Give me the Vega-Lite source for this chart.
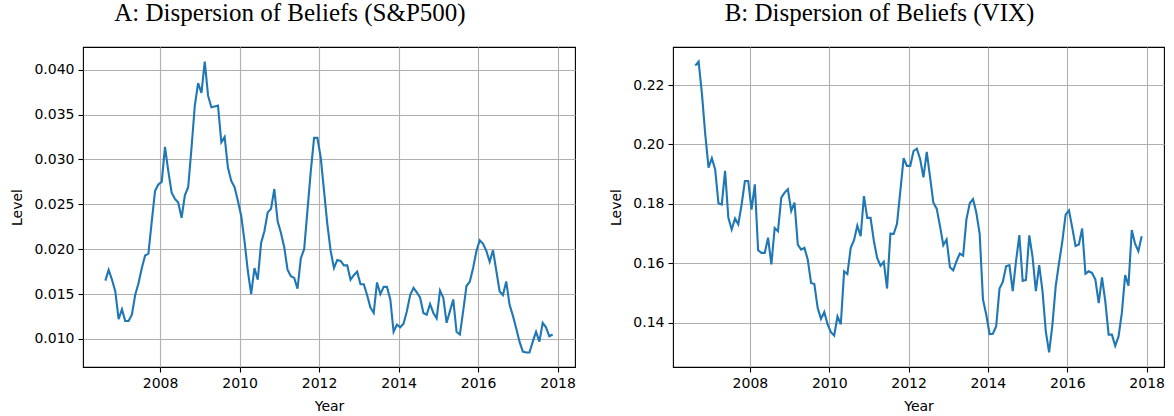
{
  "$schema": "https://vega.github.io/schema/vega-lite/v6.json",
  "padding": {"left": 10, "top": 0, "right": 5, "bottom": 5},
  "bounds": "flush",
  "spacing": 98,
  "background": "white",
  "config": {
    "font": "DejaVu Sans",
    "view": {"stroke": "#000000", "strokeWidth": 1.1},
    "axis": {
      "labelFont": "DejaVu Sans", "labelFontSize": 14, "labelColor": "#000000",
      "titleFont": "DejaVu Sans", "titleFontSize": 14, "titleFontWeight": "normal", "titleColor": "#000000",
      "tickColor": "#000000", "tickSize": 5, "tickWidth": 1.1, "labelPadding": 4,
      "domain": false, "grid": true, "gridColor": "#b0b0b0", "gridWidth": 1.1, "gridOpacity": 1,
      "titlePadding": 9, "labelOverlap": false, "labelFlush": false
    },
    "title": {
      "font": "Liberation Serif", "fontSize": 25, "fontWeight": "normal", "color": "#000000",
      "anchor": "middle", "frame": "group", "dx": -39, "baseline": "alphabetic", "offset": 21
    }
  },
  "datasets": {
    "sp": [
      {"year": 2006.625, "level": 0.0165}, {"year": 2006.708, "level": 0.0177}, {"year": 2006.792, "level": 0.0166}, {"year": 2006.875, "level": 0.0153}, {"year": 2006.958, "level": 0.0122}, {"year": 2007.042, "level": 0.0133}, {"year": 2007.125, "level": 0.0120}, {"year": 2007.208, "level": 0.0120}, {"year": 2007.292, "level": 0.0127}, {"year": 2007.375, "level": 0.0149}, {"year": 2007.458, "level": 0.0162}, {"year": 2007.542, "level": 0.0179},
      {"year": 2007.625, "level": 0.0193}, {"year": 2007.708, "level": 0.0195}, {"year": 2007.792, "level": 0.0231}, {"year": 2007.875, "level": 0.0265}, {"year": 2007.958, "level": 0.0272}, {"year": 2008.042, "level": 0.0275}, {"year": 2008.125, "level": 0.0314}, {"year": 2008.208, "level": 0.0287}, {"year": 2008.292, "level": 0.0263}, {"year": 2008.375, "level": 0.0256}, {"year": 2008.458, "level": 0.0252}, {"year": 2008.542, "level": 0.0235},
      {"year": 2008.625, "level": 0.0260}, {"year": 2008.708, "level": 0.0269}, {"year": 2008.792, "level": 0.0313}, {"year": 2008.875, "level": 0.0360}, {"year": 2008.958, "level": 0.0385}, {"year": 2009.042, "level": 0.0374}, {"year": 2009.125, "level": 0.0409}, {"year": 2009.208, "level": 0.0371}, {"year": 2009.292, "level": 0.0358}, {"year": 2009.375, "level": 0.0359}, {"year": 2009.458, "level": 0.0360}, {"year": 2009.542, "level": 0.0319},
      {"year": 2009.625, "level": 0.0325}, {"year": 2009.708, "level": 0.0291}, {"year": 2009.792, "level": 0.0276}, {"year": 2009.875, "level": 0.0269}, {"year": 2009.958, "level": 0.0254}, {"year": 2010.042, "level": 0.0237}, {"year": 2010.125, "level": 0.0209}, {"year": 2010.208, "level": 0.0176}, {"year": 2010.292, "level": 0.0150}, {"year": 2010.375, "level": 0.0179}, {"year": 2010.458, "level": 0.0166}, {"year": 2010.542, "level": 0.0207},
      {"year": 2010.625, "level": 0.0220}, {"year": 2010.708, "level": 0.0241}, {"year": 2010.792, "level": 0.0245}, {"year": 2010.875, "level": 0.0267}, {"year": 2010.958, "level": 0.0231}, {"year": 2011.042, "level": 0.0218}, {"year": 2011.125, "level": 0.0202}, {"year": 2011.208, "level": 0.0177}, {"year": 2011.292, "level": 0.0170}, {"year": 2011.375, "level": 0.0168}, {"year": 2011.458, "level": 0.0156}, {"year": 2011.542, "level": 0.0190},
      {"year": 2011.625, "level": 0.0200}, {"year": 2011.708, "level": 0.0243}, {"year": 2011.792, "level": 0.0287}, {"year": 2011.875, "level": 0.0324}, {"year": 2011.958, "level": 0.0324}, {"year": 2012.042, "level": 0.0302}, {"year": 2012.125, "level": 0.0265}, {"year": 2012.208, "level": 0.0228}, {"year": 2012.292, "level": 0.0198}, {"year": 2012.375, "level": 0.0179}, {"year": 2012.458, "level": 0.0188}, {"year": 2012.542, "level": 0.0187},
      {"year": 2012.625, "level": 0.0182}, {"year": 2012.708, "level": 0.0182}, {"year": 2012.792, "level": 0.0166}, {"year": 2012.875, "level": 0.0171}, {"year": 2012.958, "level": 0.0175}, {"year": 2013.042, "level": 0.0161}, {"year": 2013.125, "level": 0.0161}, {"year": 2013.208, "level": 0.0149}, {"year": 2013.292, "level": 0.0135}, {"year": 2013.375, "level": 0.0129}, {"year": 2013.458, "level": 0.0163}, {"year": 2013.542, "level": 0.0150},
      {"year": 2013.625, "level": 0.0158}, {"year": 2013.708, "level": 0.0158}, {"year": 2013.792, "level": 0.0144}, {"year": 2013.875, "level": 0.0108}, {"year": 2013.958, "level": 0.0116}, {"year": 2014.042, "level": 0.0113}, {"year": 2014.125, "level": 0.0117}, {"year": 2014.208, "level": 0.0131}, {"year": 2014.292, "level": 0.0149}, {"year": 2014.375, "level": 0.0157}, {"year": 2014.458, "level": 0.0152}, {"year": 2014.542, "level": 0.0146},
      {"year": 2014.625, "level": 0.0129}, {"year": 2014.708, "level": 0.0127}, {"year": 2014.792, "level": 0.0139}, {"year": 2014.875, "level": 0.0129}, {"year": 2014.958, "level": 0.0123}, {"year": 2015.042, "level": 0.0154}, {"year": 2015.125, "level": 0.0146}, {"year": 2015.208, "level": 0.0118}, {"year": 2015.292, "level": 0.0131}, {"year": 2015.375, "level": 0.0144}, {"year": 2015.458, "level": 0.0108}, {"year": 2015.542, "level": 0.0105},
      {"year": 2015.625, "level": 0.0131}, {"year": 2015.708, "level": 0.0159}, {"year": 2015.792, "level": 0.0164}, {"year": 2015.875, "level": 0.0179}, {"year": 2015.958, "level": 0.0198}, {"year": 2016.042, "level": 0.0210}, {"year": 2016.125, "level": 0.0206}, {"year": 2016.208, "level": 0.0198}, {"year": 2016.292, "level": 0.0186}, {"year": 2016.375, "level": 0.0199}, {"year": 2016.458, "level": 0.0176}, {"year": 2016.542, "level": 0.0153},
      {"year": 2016.625, "level": 0.0149}, {"year": 2016.708, "level": 0.0164}, {"year": 2016.792, "level": 0.0138}, {"year": 2016.875, "level": 0.0126}, {"year": 2016.958, "level": 0.0112}, {"year": 2017.042, "level": 0.0097}, {"year": 2017.125, "level": 0.0086}, {"year": 2017.208, "level": 0.0085}, {"year": 2017.292, "level": 0.0085}, {"year": 2017.375, "level": 0.0097}, {"year": 2017.458, "level": 0.0108}, {"year": 2017.542, "level": 0.0097},
      {"year": 2017.625, "level": 0.0118}, {"year": 2017.708, "level": 0.0113}, {"year": 2017.792, "level": 0.0103}, {"year": 2017.875, "level": 0.0105}
    ],
    "vix": [
      {"year": 2006.625, "level": 0.2265}, {"year": 2006.708, "level": 0.2279}, {"year": 2006.792, "level": 0.2170}, {"year": 2006.875, "level": 0.2035}, {"year": 2006.958, "level": 0.1922}, {"year": 2007.042, "level": 0.1954}, {"year": 2007.125, "level": 0.1916}, {"year": 2007.208, "level": 0.1802}, {"year": 2007.292, "level": 0.1798}, {"year": 2007.375, "level": 0.1911}, {"year": 2007.458, "level": 0.1753}, {"year": 2007.542, "level": 0.1714},
      {"year": 2007.625, "level": 0.1751}, {"year": 2007.708, "level": 0.1731}, {"year": 2007.792, "level": 0.1798}, {"year": 2007.875, "level": 0.1877}, {"year": 2007.958, "level": 0.1877}, {"year": 2008.042, "level": 0.1781}, {"year": 2008.125, "level": 0.1866}, {"year": 2008.208, "level": 0.1644}, {"year": 2008.292, "level": 0.1635}, {"year": 2008.375, "level": 0.1635}, {"year": 2008.458, "level": 0.1686}, {"year": 2008.542, "level": 0.1596},
      {"year": 2008.625, "level": 0.1719}, {"year": 2008.708, "level": 0.1708}, {"year": 2008.792, "level": 0.1821}, {"year": 2008.875, "level": 0.1838}, {"year": 2008.958, "level": 0.1849}, {"year": 2009.042, "level": 0.1776}, {"year": 2009.125, "level": 0.1804}, {"year": 2009.208, "level": 0.1663}, {"year": 2009.292, "level": 0.1646}, {"year": 2009.375, "level": 0.1652}, {"year": 2009.458, "level": 0.1613}, {"year": 2009.542, "level": 0.1534},
      {"year": 2009.625, "level": 0.1530}, {"year": 2009.708, "level": 0.1450}, {"year": 2009.792, "level": 0.1413}, {"year": 2009.875, "level": 0.1436}, {"year": 2009.958, "level": 0.1395}, {"year": 2010.042, "level": 0.1368}, {"year": 2010.125, "level": 0.1357}, {"year": 2010.208, "level": 0.1421}, {"year": 2010.292, "level": 0.1395}, {"year": 2010.375, "level": 0.1573}, {"year": 2010.458, "level": 0.1564}, {"year": 2010.542, "level": 0.1652},
      {"year": 2010.625, "level": 0.1678}, {"year": 2010.708, "level": 0.1727}, {"year": 2010.792, "level": 0.1691}, {"year": 2010.875, "level": 0.1826}, {"year": 2010.958, "level": 0.1753}, {"year": 2011.042, "level": 0.1753}, {"year": 2011.125, "level": 0.1675}, {"year": 2011.208, "level": 0.1618}, {"year": 2011.292, "level": 0.1592}, {"year": 2011.375, "level": 0.1605}, {"year": 2011.458, "level": 0.1515}, {"year": 2011.542, "level": 0.1700},
      {"year": 2011.625, "level": 0.1699}, {"year": 2011.708, "level": 0.1733}, {"year": 2011.792, "level": 0.1843}, {"year": 2011.875, "level": 0.1954}, {"year": 2011.958, "level": 0.1928}, {"year": 2012.042, "level": 0.1928}, {"year": 2012.125, "level": 0.1978}, {"year": 2012.208, "level": 0.1986}, {"year": 2012.292, "level": 0.1950}, {"year": 2012.375, "level": 0.1889}, {"year": 2012.458, "level": 0.1975}, {"year": 2012.542, "level": 0.1889},
      {"year": 2012.625, "level": 0.1804}, {"year": 2012.708, "level": 0.1784}, {"year": 2012.792, "level": 0.1725}, {"year": 2012.875, "level": 0.1661}, {"year": 2012.958, "level": 0.1680}, {"year": 2013.042, "level": 0.1587}, {"year": 2013.125, "level": 0.1576}, {"year": 2013.208, "level": 0.1607}, {"year": 2013.292, "level": 0.1633}, {"year": 2013.375, "level": 0.1626}, {"year": 2013.458, "level": 0.1748}, {"year": 2013.542, "level": 0.1802},
      {"year": 2013.625, "level": 0.1816}, {"year": 2013.708, "level": 0.1770}, {"year": 2013.792, "level": 0.1699}, {"year": 2013.875, "level": 0.1478}, {"year": 2013.958, "level": 0.1427}, {"year": 2014.042, "level": 0.1362}, {"year": 2014.125, "level": 0.1363}, {"year": 2014.208, "level": 0.1388}, {"year": 2014.292, "level": 0.1515}, {"year": 2014.375, "level": 0.1537}, {"year": 2014.458, "level": 0.1590}, {"year": 2014.542, "level": 0.1594},
      {"year": 2014.625, "level": 0.1506}, {"year": 2014.708, "level": 0.1607}, {"year": 2014.792, "level": 0.1695}, {"year": 2014.875, "level": 0.1541}, {"year": 2014.958, "level": 0.1544}, {"year": 2015.042, "level": 0.1694}, {"year": 2015.125, "level": 0.1621}, {"year": 2015.208, "level": 0.1506}, {"year": 2015.292, "level": 0.1594}, {"year": 2015.375, "level": 0.1507}, {"year": 2015.458, "level": 0.1371}, {"year": 2015.542, "level": 0.1300},
      {"year": 2015.625, "level": 0.1393}, {"year": 2015.708, "level": 0.1523}, {"year": 2015.792, "level": 0.1601}, {"year": 2015.875, "level": 0.1674}, {"year": 2015.958, "level": 0.1764}, {"year": 2016.042, "level": 0.1778}, {"year": 2016.125, "level": 0.1720}, {"year": 2016.208, "level": 0.1658}, {"year": 2016.292, "level": 0.1663}, {"year": 2016.375, "level": 0.1717}, {"year": 2016.458, "level": 0.1565}, {"year": 2016.542, "level": 0.1573},
      {"year": 2016.625, "level": 0.1567}, {"year": 2016.708, "level": 0.1545}, {"year": 2016.792, "level": 0.1466}, {"year": 2016.875, "level": 0.1553}, {"year": 2016.958, "level": 0.1472}, {"year": 2017.042, "level": 0.1360}, {"year": 2017.125, "level": 0.1360}, {"year": 2017.208, "level": 0.1322}, {"year": 2017.292, "level": 0.1354}, {"year": 2017.375, "level": 0.1433}, {"year": 2017.458, "level": 0.1560}, {"year": 2017.542, "level": 0.1525},
      {"year": 2017.625, "level": 0.1712}, {"year": 2017.708, "level": 0.1666}, {"year": 2017.792, "level": 0.1641}, {"year": 2017.875, "level": 0.1691}
    ]
  },
  "hconcat": [
    {
      "title": "A: Dispersion of Beliefs (S&P500)",
      "width": 492, "height": 320,
      "data": {"name": "sp"},
      "mark": {"type": "line", "color": "#1f77b4", "strokeWidth": 2.1},
      "encoding": {
        "x": {"field": "year", "type": "quantitative",
              "scale": {"domain": [2006.0625, 2018.4375], "nice": false, "zero": false},
              "axis": {"title": "Year", "values": [2008, 2010, 2012, 2014, 2016, 2018], "format": "d"}},
        "y": {"field": "level", "type": "quantitative",
              "scale": {"domain": [0.00688, 0.04252], "nice": false, "zero": false},
              "axis": {"title": "Level", "values": [0.010, 0.015, 0.020, 0.025, 0.030, 0.035, 0.040], "format": ".3f"}}
      }
    },
    {
      "title": "B: Dispersion of Beliefs (VIX)",
      "width": 491, "height": 320,
      "data": {"name": "vix"},
      "mark": {"type": "line", "color": "#1f77b4", "strokeWidth": 2.1},
      "encoding": {
        "x": {"field": "year", "type": "quantitative",
              "scale": {"domain": [2006.0625, 2018.4375], "nice": false, "zero": false},
              "axis": {"title": "Year", "values": [2008, 2010, 2012, 2014, 2016, 2018], "format": "d"}},
        "y": {"field": "level", "type": "quantitative",
              "scale": {"domain": [0.1251, 0.2328], "nice": false, "zero": false},
              "axis": {"title": "Level", "values": [0.14, 0.16, 0.18, 0.20, 0.22], "format": ".2f"}}
      }
    }
  ]
}
